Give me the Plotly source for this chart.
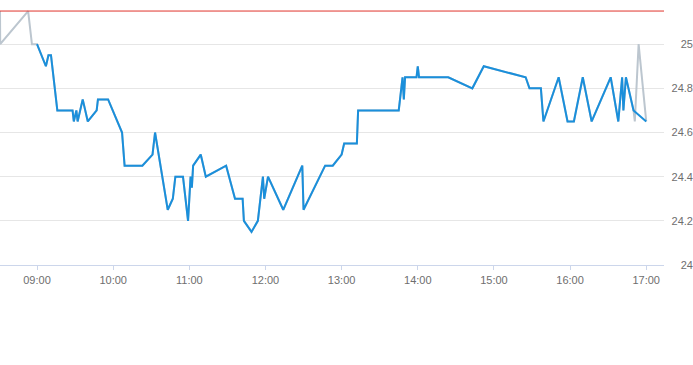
import plotly.graph_objects as go

DAY = "2024-01-02 "

# Full series (grey, drawn underneath)
all_times = ["08:30:50", "08:31:00", "08:53", "08:56", "09:00"]
all_values = [25.15, 25.00, 25.15, 25.00, 25.00]
tail_times = ["16:50", "16:51", "16:54", "17:00"]
tail_values = [24.70, 24.65, 25.00, 24.65]

# Session series (blue)
times = ["09:00", "09:07", "09:09", "09:11", "09:16", "09:28", "09:29", "09:31", "09:32", "09:36",
         "09:40", "09:47", "09:48", "09:56", "10:07", "10:09", "10:23", "10:31", "10:33", "10:43",
         "10:47", "10:49", "10:55", "10:59", "11:01", "11:02", "11:03", "11:09", "11:13", "11:29",
         "11:36", "11:42", "11:43", "11:49", "11:54", "11:58", "11:59", "12:02", "12:14", "12:29",
         "12:30", "12:47", "12:53", "13:00", "13:02", "13:12", "13:13", "13:45", "13:47", "13:48",
         "13:49", "13:50", "13:59", "14:00", "14:01", "14:24", "14:43", "14:52", "15:25", "15:28",
         "15:37", "15:39", "15:51", "15:58", "16:03", "16:10", "16:17", "16:32", "16:38", "16:41",
         "16:42", "16:44", "16:50", "17:00"]
values = [25.00, 24.90, 24.95, 24.95, 24.70, 24.70, 24.65, 24.70, 24.65, 24.75,
          24.65, 24.70, 24.75, 24.75, 24.60, 24.45, 24.45, 24.50, 24.60, 24.25,
          24.30, 24.40, 24.40, 24.20, 24.40, 24.35, 24.45, 24.50, 24.40, 24.45,
          24.30, 24.30, 24.20, 24.15, 24.20, 24.40, 24.30, 24.40, 24.25, 24.45,
          24.25, 24.45, 24.45, 24.50, 24.55, 24.55, 24.70, 24.70, 24.80, 24.85,
          24.75, 24.85, 24.85, 24.90, 24.85, 24.85, 24.80, 24.90, 24.85, 24.80,
          24.80, 24.65, 24.85, 24.65, 24.65, 24.85, 24.65, 24.85, 24.65, 24.85,
          24.70, 24.85, 24.70, 24.65]

ref_level = 25.15
y_ticks = [24.0, 24.2, 24.4, 24.6, 24.8, 25.0]
x_start, x_end = "08:30:50", "17:14"

grey_t = all_times + times[1:-2] + tail_times
grey_v = all_values + values[1:-2] + tail_values

fig = go.Figure()
fig.add_trace(go.Scatter(x=[DAY + t for t in grey_t], y=grey_v, mode="lines",
                         line=dict(color="#bcc6cf", width=2), hoverinfo="skip"))
fig.add_trace(go.Scatter(x=[DAY + t for t in times], y=values, mode="lines",
                         line=dict(color="#1a8fdb", width=2)))

fig.add_shape(type="line", xref="x domain", yref="y", x0=0, x1=1, y0=ref_level, y1=ref_level,
              line=dict(color="#e0342c", width=1))

fig.update_layout(
    width=693, height=365,
    margin=dict(l=0, r=0, t=0, b=100),
    paper_bgcolor="white", plot_bgcolor="white",
    showlegend=False,
    font=dict(family="Liberation Sans, Arial, sans-serif", size=11, color="#6e6e6e"),
    xaxis=dict(
        domain=[0, 664 / 693],
        type="date",
        range=[DAY + x_start, DAY + x_end],
        tickformat="%H:%M",
        dtick=3600000,
        tick0=DAY + "09:00",
        ticks="outside", ticklen=4, tickcolor="#ccd6eb",
        showline=True, linecolor="#ccd6eb", linewidth=1,
        showgrid=False, zeroline=False,
        ticklabelstandoff=1,
    ),
    yaxis=dict(
        anchor="free", position=1, side="left",
        range=[24.0, 25.2],
        tickvals=y_ticks,
        showgrid=True, gridcolor="#e6e6e6", gridwidth=1,
        zeroline=False, showline=False, ticks="",
    ),
)

fig.write_html("out.html")
